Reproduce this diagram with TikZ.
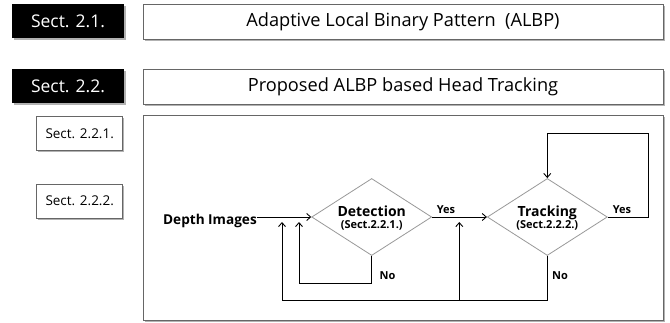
\documentclass[tikz,border=0pt]{standalone}
\usepackage{fontspec}
\setmainfont{Open Sans}
\usetikzlibrary{shapes.geometric,arrows.meta,shadows}
\begin{document}
\begin{tikzpicture}[x=1pt,y=-1pt,
  boxshadow/.style={drop shadow={shadow xshift=1.5pt,shadow yshift=-1.8pt,fill=gray!75,opacity=0.8}},
  secdark/.style={fill=black,text=white,minimum width=112pt,minimum height=34pt,inner sep=0pt,
    font=\fontsize{17.5}{17.5}\selectfont,boxshadow},
  titlebox/.style={draw=gray!80!black,line width=0.8pt,fill=white,minimum width=520pt,minimum height=35pt,
    inner sep=0pt,font=\fontsize{18.2}{18.2}\selectfont,boxshadow},
  subsec/.style={draw=gray!80!black,line width=0.8pt,fill=white,minimum width=86pt,minimum height=34pt,
    inner sep=0pt,font=\fontsize{13.5}{13.5}\selectfont,boxshadow},
  framebox/.style={draw=gray!80!black,line width=0.8pt,fill=white,minimum width=520pt,minimum height=205pt,
    inner sep=0pt,boxshadow},
  decision/.style={diamond,draw=gray!80,line width=0.8pt,minimum width=120pt,minimum height=77pt,
    inner sep=0pt},
  dectitle/.style={font=\bfseries\fontsize{14}{14}\selectfont,inner sep=0pt},
  decsub/.style={font=\bfseries\fontsize{11}{11}\selectfont,inner sep=0pt},
  bigbold/.style={font=\bfseries\fontsize{13.6}{13.6}\selectfont},
  lbl/.style={font=\bfseries\fontsize{11}{11}\selectfont},
  flow/.style={draw=black,line width=0.9pt,-{Straight Barb[length=4pt,width=7pt]}}
]
\useasboundingbox (0,0) rectangle (670,323);

% section headers
\node[secdark] (s21) at (68,21) {Sect. 2.1.};
\node[titlebox] (t21) at (403,21.5) {Adaptive Local Binary Pattern~~(ALBP)};
\node[secdark] (s22) at (68,86) {Sect. 2.2.};
\node[titlebox] (t22) at (403,86.5) {Proposed ALBP based Head Tracking};

% subsection tags
\node[subsec] (s221) at (79.7,133.7) {Sect. 2.2.1.};
\node[subsec] (s222) at (79.7,201) {Sect. 2.2.2.};

% flow chart panel
\node[framebox] (panel) at (403,217.5) {};

% decision diamonds and their captions
\node[decision] (det) at (371.7,217) {};
\node[decision] (trk) at (547.3,217) {};
\node[dectitle,anchor=base] (dett) at (371.7,217) {Detection};
\node[decsub,anchor=base] (dets) at (371.7,228.5) {(Sect.2.2.1.)};
\node[dectitle,anchor=base] (trkt) at (547.3,217) {Tracking};
\node[decsub,anchor=base] (trks) at (547.3,228.5) {(Sect.2.2.2.)};

\node[bigbold,anchor=base east,inner sep=0pt] (depth) at (257,225) {Depth Images};

% return points of the loops
\coordinate (detret) at (299,222);
\coordinate (loopA) at (299,283);
\coordinate (trkret) at (282,222);
\coordinate (loopB) at (282,300);
\coordinate (midret) at (459.3,222);
\coordinate (topR) at (648,133);

% connectors
\draw[flow] (depth.east |- det.west) -- (det.west);
\draw[flow] (det.east) -- (trk.west);
\draw[flow] (det.south) |- (loopA) -- (detret);
\draw[flow] (trk.south) |- (loopB) -- (trkret);
\draw[flow] (midret |- loopB) -- (midret);
\draw[flow] (trk.east) -| (topR) -| (trk.north);

% branch labels
\node[lbl] (yes1) at (446,210) {Yes};
\node[lbl] (yes2) at (622,210) {Yes};
\node[lbl] (no1) at (387.5,275.5) {No};
\node[lbl] (no2) at (560,275.5) {No};
\end{tikzpicture}
\end{document}
